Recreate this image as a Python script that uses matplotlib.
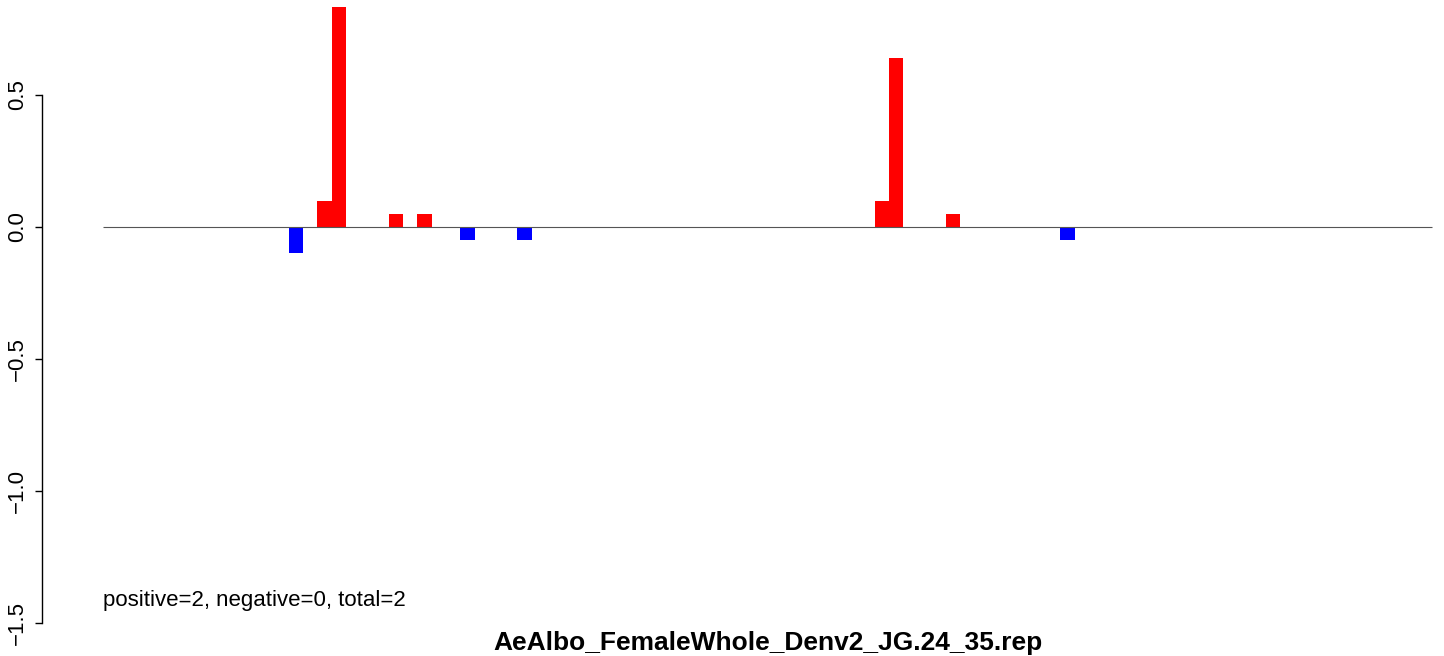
import matplotlib
matplotlib.use("Agg")
import matplotlib.pyplot as plt

plt.rcParams["font.family"] = ["Liberation Sans", "DejaVu Sans"]

# bar slots (0-based) along the sequence and their scores
n_slots = 93
slots = [13, 15, 16, 20, 22, 25, 29, 54, 55, 59, 67]
scores = [-0.1, 0.1, 0.835, 0.05, 0.05, -0.05, -0.05, 0.1, 0.64, 0.05, -0.05]
y_ticks = [-1.5, -1.0, -0.5, 0.0, 0.5]
title = "AeAlbo_FemaleWhole_Denv2_JG.24_35.rep"
note = "positive=2, negative=0, total=2"

W, H = 1444, 656
fig = plt.figure(figsize=(W / 100, H / 100), dpi=100)
ax = fig.add_axes([0, 0, 1, 1])

px = 14.29          # pixels per slot
x0 = 103            # pixel of slot 0
ax.set_xlim(-x0 / px, (W - x0) / px)
ax.set_ylim(-(H - 227) / 264, 227 / 264)

colors = ["red" if s > 0 else "blue" for s in scores]
ax.bar([s + 0.5 for s in slots], scores, width=1.0, color=colors, linewidth=0)
ax.hlines(0, 0, n_slots, color="#555555", lw=0.8, zorder=3)

for name in ["top", "right", "bottom"]:
    ax.spines[name].set_visible(False)
ax.spines["left"].set_position(("data", (42 - x0) / px))
ax.spines["left"].set_bounds(-1.5, 0.5)
ax.spines["left"].set_linewidth(1.0)
ax.set_xticks([])
ax.set_yticks(y_ticks)
ax.set_yticklabels([f"{t:.1f}".replace("-", "\u2212") for t in y_ticks],
                   rotation=90, va="center", fontsize=16)
ax.tick_params(axis="y", length=5, width=1.0, pad=5)

ax.text(0, -1.415, note, fontsize=16, ha="left", va="center")
fig.text((x0 + 1432) / 2 / W, 1 - 643 / H, title, fontsize=19,
         fontweight="bold", ha="center", va="center")

fig.savefig("out.png", dpi=100)
